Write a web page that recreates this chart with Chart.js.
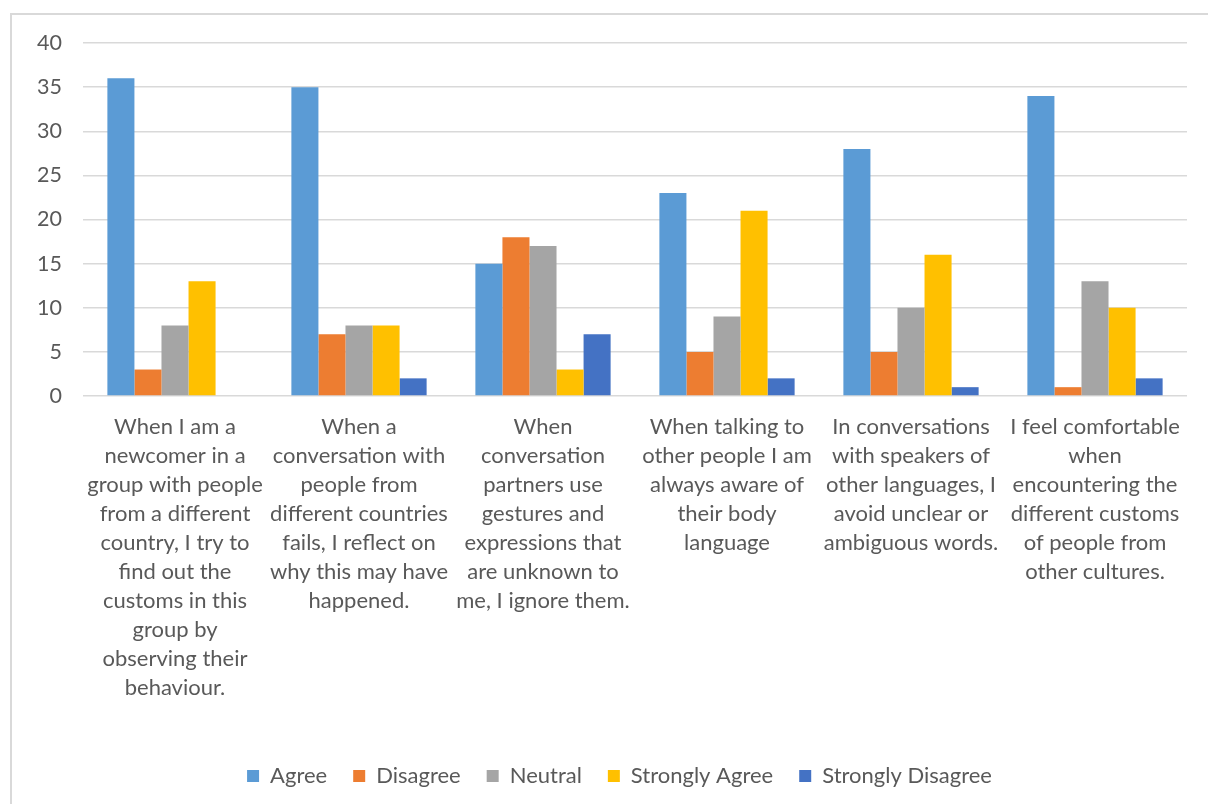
<!DOCTYPE html>
<html>
<head>
<meta charset="utf-8">
<script src="https://cdn.jsdelivr.net/npm/chart.js@4"></script>
<style>
  html, body { margin: 0; padding: 0; background: #fff; overflow: hidden; }
  #frame {
    position: absolute; left: 10px; top: 13px;
    width: 1240px; height: 840px;
    border: 2px solid #d9d9d9; box-sizing: border-box;
  }
  #wrap { position: absolute; left: 0; top: 0; width: 1208px; height: 804px; }
</style>
</head>
<body>
<div id="frame"></div>
<div id="wrap"><canvas id="surveyChart" width="1208" height="804"></canvas></div>
<script>
/* survey statements (wrapped as in the original layout) */
const statements = [
    ["When I am a", "newcomer in a", "group with people", "from a different", "country, I try to", "find out the", "customs in this", "group by", "observing their", "behaviour."],
    ["When a", "conversation with", "people from", "different countries", "fails, I reflect on", "why this may have", "happened."],
    ["When", "conversation", "partners use", "gestures and", "expressions that", "are unknown to", "me, I ignore them."],
    ["When talking to", "other people I am", "always aware of", "their body", "language"],
    ["In conversations", "with speakers of", "other languages, I", "avoid unclear or", "ambiguous words."],
    ["I feel comfortable", "when", "encountering the", "different customs", "of people from", "other cultures."]
];

const agree            = [36, 35, 15, 23, 28, 34];
const disagree         = [3, 7, 18, 5, 5, 1];
const neutral          = [8, 8, 17, 9, 10, 13];
const stronglyAgree    = [13, 8, 3, 21, 16, 10];
const stronglyDisagree = [0, 2, 7, 2, 1, 2];

const yTicks = [0, 5, 10, 15, 20, 25, 30, 35, 40];

const textColor = "#595959";
const fontFamily = "Lato, 'Open Sans', sans-serif";

Chart.defaults.font.family = fontFamily;
Chart.defaults.color = textColor;

function series(label, data, color) {
    return {
        label,
        data,
        backgroundColor: color,
        borderWidth: 0,
        categoryPercentage: 0.735,
        barPercentage: 1.0
    };
}

/* the frame runs past the right edge, so the legend sits a bit right of centre */
const legendShift = {
    id: "legendShift",
    afterLayout: (chart) => {
        if (!chart.legend) return;
        chart.legend.left += 26;
        chart.legend.right += 26;
    }
};

const ctx = document.getElementById("surveyChart").getContext("2d");

new Chart(ctx, {
    type: "bar",
    data: {
        labels: statements,
        datasets: [
            series("Agree", agree, "#5b9bd5"),
            series("Disagree", disagree, "#ed7d31"),
            series("Neutral", neutral, "#a5a5a5"),
            series("Strongly Agree", stronglyAgree, "#ffc000"),
            series("Strongly Disagree", stronglyDisagree, "#4472c4")
        ]
    },
    plugins: [legendShift],
    options: {
        responsive: false,
        animation: false,
        layout: { padding: { top: 43, right: 21, bottom: 7, left: 0 } },
        plugins: {
            tooltip: { enabled: false },
            legend: {
                position: "bottom",
                labels: {
                    boxWidth: 12,
                    boxHeight: 12,
                    padding: 26,
                    color: textColor,
                    font: { size: 22 }
                }
            }
        },
        scales: {
            x: {
                grid: { display: false },
                border: { display: false },
                ticks: {
                    autoSkip: false,
                    maxRotation: 0,
                    minRotation: 0,
                    padding: 8,
                    color: textColor,
                    font: { size: 22, lineHeight: 1.32 }
                },
                afterFit: (scale) => { scale.height = 343; }
            },
            y: {
                min: 0,
                max: 40,
                afterBuildTicks: (scale) => {
                    scale.ticks = yTicks.map(v => ({ value: v }));
                },
                grid: {
                    color: "#d9d9d9",
                    lineWidth: 1.5,
                    drawTicks: false
                },
                border: { display: false },
                ticks: {
                    padding: 21,
                    color: textColor,
                    font: { size: 21.5 }
                },
                afterFit: (scale) => { scale.width = 83; }
            }
        }
    }
});
</script>
</body>
</html>
